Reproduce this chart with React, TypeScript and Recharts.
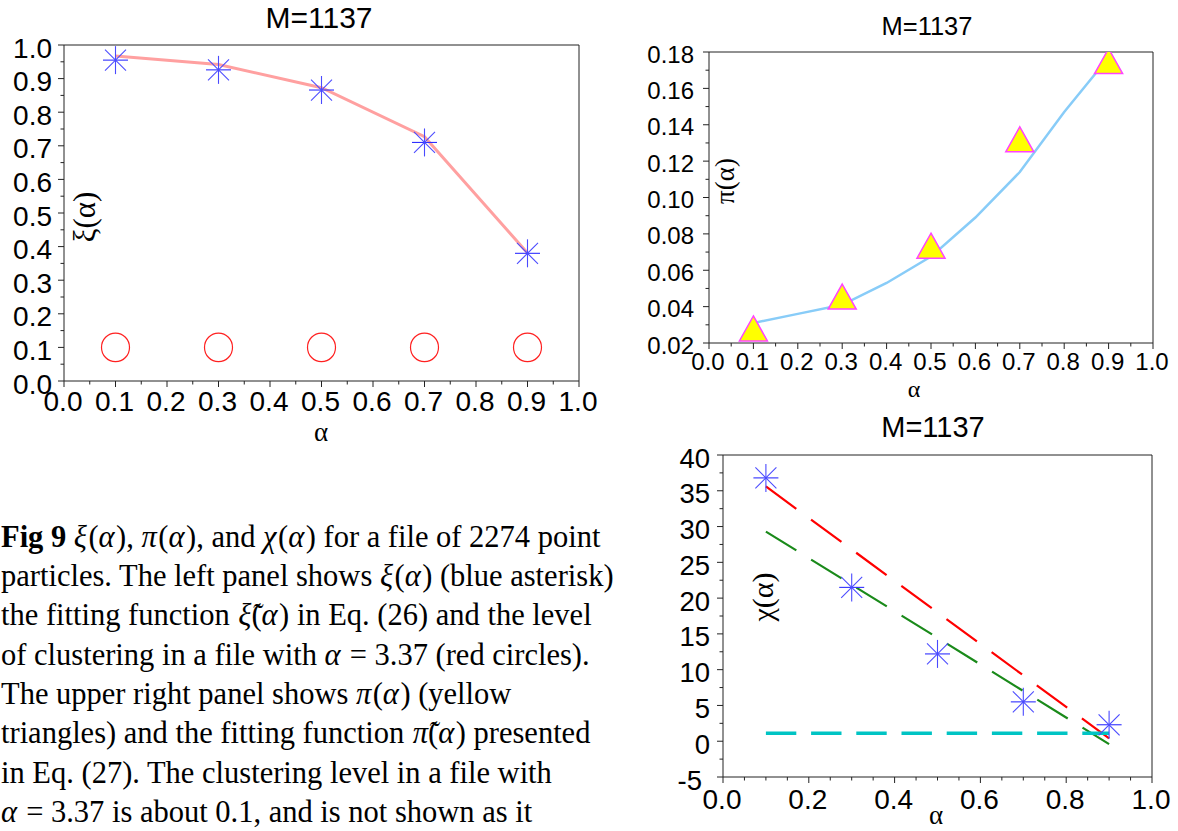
import React from 'react';
import { ComposedChart, Line, Scatter, XAxis, YAxis, ReferenceArea } from 'recharts';

// ---------- data ----------
const alpha = [0.1, 0.3, 0.5, 0.7, 0.9];
const xiMeasured = [0.955, 0.926, 0.866, 0.71, 0.38];
const xiFit = [0.967, 0.942, 0.873, 0.727, 0.381];
const clusterLevel = [0.1, 0.1, 0.1, 0.1, 0.1];

const piMeasured = [0.028, 0.0455, 0.0735, 0.132, 0.175];
const piFitAlpha = [0.1, 0.2, 0.3, 0.4, 0.5, 0.6, 0.7, 0.8, 0.9];
const piFit = [0.031, 0.036, 0.041, 0.053, 0.0675, 0.089, 0.114, 0.147, 0.177];

const chiMeasured = [36.8, 21.5, 12.2, 5.5, 2.3];
const chiFitAlpha = [0.1, 0.9];
const chiFitRed = [35.6, 0.4];
const chiFitGreen = [29.3, -0.4];
const chiFitCyan = [1.1, 1.1];

// ---------- ticks ----------
const unitTicks = [0, 0.1, 0.2, 0.3, 0.4, 0.5, 0.6, 0.7, 0.8, 0.9, 1.0];
const unitLabels = ['0.0', '0.1', '0.2', '0.3', '0.4', '0.5', '0.6', '0.7', '0.8', '0.9', '1.0'];
const unitMinor = [0.05, 0.15, 0.25, 0.35, 0.45, 0.55, 0.65, 0.75, 0.85, 0.95];

const piTicks = [0.02, 0.04, 0.06, 0.08, 0.1, 0.12, 0.14, 0.16, 0.18];
const piLabels = ['0.02', '0.04', '0.06', '0.08', '0.10', '0.12', '0.14', '0.16', '0.18'];
const piMinor = [0.03, 0.05, 0.07, 0.09, 0.11, 0.13, 0.15, 0.17];

const chiXTicks = [0, 0.2, 0.4, 0.6, 0.8, 1.0];
const chiXLabels = ['0.0', '0.2', '0.4', '0.6', '0.8', '1.0'];
const chiXMinor = [0.05, 0.1, 0.15, 0.25, 0.3, 0.35, 0.45, 0.5, 0.55, 0.65, 0.7, 0.75, 0.85, 0.9, 0.95];

const chiYTicks = [-5, 0, 5, 10, 15, 20, 25, 30, 35, 40];
const chiYLabels = ['-5', '0', '5', '10', '15', '20', '25', '30', '35', '40'];
const chiYMinor = [-2.5, 2.5, 7.5, 12.5, 17.5, 22.5, 27.5, 32.5, 37.5];

const SANS = '"Liberation Sans", Arial, sans-serif';
const SERIF = '"Liberation Serif", "Times New Roman", serif';

const toXY = (xs: number[], ys: number[]) => xs.map((x, i) => ({ x, y: ys[i] }));

const all = (a: number[], b: number[]) => [...a, ...b].sort((p, q) => p - q);

function makeTick(
  orient: 'x' | 'y',
  majors: number[],
  labels: string[],
  fontSize: number,
  gap: number,
  dy: number,
  firstDx = 0
) {
  return (props: any) => {
    const { x, y, payload } = props;
    const v = payload.value;
    const idx = majors.findIndex((m) => Math.abs(m - v) < 1e-9);
    const major = idx >= 0;
    const len = major ? 6 : 3.5;
    if (orient === 'x') {
      return (
        <g>
          <line x1={x} x2={x} y1={y} y2={y + len} stroke="#222" strokeWidth={1} />
          {major && (
            <text x={x - 1} y={y + gap} textAnchor="middle" fontSize={fontSize} fontFamily={SANS} fill="#000">
              {labels[idx]}
            </text>
          )}
        </g>
      );
    }
    return (
      <g>
        <line x1={x} x2={x - len} y1={y} y2={y} stroke="#222" strokeWidth={1} />
        {major && (
          <text
            x={x - gap + (idx === 0 ? firstDx : 0)}
            y={y + dy}
            textAnchor="end"
            dominantBaseline="central"
            fontSize={fontSize}
            fontFamily={SANS}
            fill="#000"
          >
            {labels[idx]}
          </text>
        )}
      </g>
    );
  };
}

// ---------- markers ----------
const Star = (props: any) => {
  const { cx, cy } = props;
  if (cx == null || cy == null) return null;
  return (
    <g stroke="#4a4aff" strokeWidth={1.1} fill="none">
      <line x1={cx - 12.5} x2={cx + 12.5} y1={cy} y2={cy} stroke="#2f2fff" />
      <line x1={cx} x2={cx} y1={cy - 14} y2={cy + 14} />
      <line x1={cx - 10.5} y1={cy - 10.5} x2={cx + 10.5} y2={cy + 10.5} />
      <line x1={cx - 10.5} y1={cy + 10.5} x2={cx + 10.5} y2={cy - 10.5} />
    </g>
  );
};

const Ring = (props: any) => {
  const { cx, cy } = props;
  if (cx == null || cy == null) return null;
  return <ellipse cx={cx} cy={cy} rx={14} ry={14.3} fill="none" stroke="#ff2020" strokeWidth={1.2} />;
};

const Tri = (props: any) => {
  const { cx, cy } = props;
  if (cx == null || cy == null) return null;
  const h = 25;
  const w = 28;
  const d = `M${cx},${cy - h / 2} L${cx + w / 2},${cy + h / 2} L${cx - w / 2},${cy + h / 2} Z`;
  return <path d={d} fill="#ffff00" stroke="#ff44ff" strokeWidth={1.5} />;
};

// ---------- caption ----------
// **bold**, _italic math_, ~x~ = italic math letter with a combining tilde accent
const captionLines: string[] = [
  '**Fig 9** _ξ_(_α_), _π_(_α_), and _χ_(_α_) for a file of 2274 point',
  'particles. The left panel shows _ξ_(_α_) (blue asterisk)',
  'the fitting function ~ξ\u0303~(_α_) in Eq. (26) and the level',
  'of clustering in a file with _α_ = 3.37 (red circles).',
  'The upper right panel shows _π_(_α_) (yellow',
  'triangles) and the fitting function ~π\u0303~(_α_) presented',
  'in Eq. (27). The clustering level in a file with',
  '_α_ = 3.37 is about 0.1, and is not shown as it',
];

function renderRich(t: string) {
  const parts = t.split(/(\*\*[^*]+\*\*|_[^_]+_|~[^~]+~)/g).filter((p) => p.length > 0);
  return parts.map((p, i) => {
    if (p.startsWith('**')) return <tspan key={i} fontWeight="bold">{p.slice(2, -2)}</tspan>;
    if (p.startsWith('_'))
      return (
        <tspan key={i} fontStyle="italic" letterSpacing={1.5}>
          {p.slice(1, -1)}
        </tspan>
      );
    if (p.startsWith('~'))
      return (
        <tspan key={i} fontStyle="italic" dx={1}>
          {p.slice(1, -1)}
        </tspan>
      );
    return <tspan key={i}>{p}</tspan>;
  });
}

const axisCommon = {
  axisLine: false,
  tickLine: false,
  tickSize: 0,
  tickMargin: 0,
  interval: 0 as const,
  allowDataOverflow: true,
};

export default function App() {
  const xiData = toXY(alpha, xiMeasured);
  const xiFitData = toXY(alpha, xiFit);
  const clusterData = toXY(alpha, clusterLevel);
  const piData = toXY(alpha, piMeasured);
  const piFitData = toXY(piFitAlpha, piFit);
  const chiData = toXY(alpha, chiMeasured);
  const redData = toXY(chiFitAlpha, chiFitRed);
  const greenData = toXY(chiFitAlpha, chiFitGreen);
  const cyanData = toXY(chiFitAlpha, chiFitCyan);

  return (
    <div
      style={{
        position: 'absolute',
        left: 0,
        top: 0,
        width: 1178,
        height: 831,
        background: '#fff',
        overflow: 'hidden',
      }}
    >
      {/* Left panel: plot x 64..579, y 45..381 */}
      <div style={{ position: 'absolute', left: 0, top: 0 }}>
        <ComposedChart width={600} height={450} margin={{ top: 45, right: 21, bottom: 68, left: 63 }}>
          <XAxis
            {...axisCommon}
            type="number"
            dataKey="x"
            domain={[0, 1]}
            ticks={all(unitTicks, unitMinor)}
            height={1}
            tick={makeTick('x', unitTicks, unitLabels, 28, 29.5, 0)}
          />
          <YAxis
            {...axisCommon}
            type="number"
            dataKey="y"
            domain={[0, 1]}
            ticks={all(unitTicks, unitMinor)}
            width={1}
            tick={makeTick('y', unitTicks, unitLabels, 28, 12, 3)}
          />
          <ReferenceArea x1={0} x2={1} y1={0} y2={1} fill="none" fillOpacity={0} stroke="#222" strokeWidth={1} ifOverflow="visible" />
          <Line data={xiFitData} dataKey="y" type="linear" stroke="#ffa0a0" strokeWidth={3} dot={false} isAnimationActive={false} />
          <Scatter data={xiData} dataKey="y" shape={(p: any) => <Star {...p} />} isAnimationActive={false} />
          <Scatter data={clusterData} dataKey="y" shape={(p: any) => <Ring {...p} />} isAnimationActive={false} />
        </ComposedChart>
      </div>

      {/* Top right panel: plot x 709..1153, y 52..343 */}
      <div style={{ position: 'absolute', left: 600, top: 0 }}>
        <ComposedChart width={578} height={400} margin={{ top: 52, right: 25, bottom: 56, left: 108 }}>
          <XAxis
            {...axisCommon}
            type="number"
            dataKey="x"
            domain={[0, 1]}
            ticks={all(unitTicks, unitMinor)}
            height={1}
            tick={makeTick('x', unitTicks, unitLabels, 24, 27, 0)}
          />
          <YAxis
            {...axisCommon}
            type="number"
            dataKey="y"
            domain={[0.02, 0.18]}
            ticks={all(piTicks, piMinor)}
            width={1}
            tick={makeTick('y', piTicks, piLabels, 24, 15, 2)}
          />
          <ReferenceArea x1={0} x2={1} y1={0.02} y2={0.18} fill="none" fillOpacity={0} stroke="#222" strokeWidth={1} ifOverflow="visible" />
          <Scatter data={piData} dataKey="y" shape={(p: any) => <Tri {...p} />} isAnimationActive={false} />
          <Line data={piFitData} dataKey="y" type="linear" stroke="#88ccf8" strokeWidth={2.5} dot={false} isAnimationActive={false} />
        </ComposedChart>
      </div>

      {/* Bottom right panel: plot x 723..1152, y 455..777 */}
      <div style={{ position: 'absolute', left: 600, top: 400 }}>
        <ComposedChart width={578} height={431} margin={{ top: 55, right: 26, bottom: 53, left: 122 }}>
          <XAxis
            {...axisCommon}
            type="number"
            dataKey="x"
            domain={[0, 1]}
            ticks={all(chiXTicks, chiXMinor)}
            height={1}
            tick={makeTick('x', chiXTicks, chiXLabels, 28, 32, 0)}
          />
          <YAxis
            {...axisCommon}
            type="number"
            dataKey="y"
            domain={[-5, 40]}
            ticks={all(chiYTicks, chiYMinor)}
            width={1}
            tick={makeTick('y', chiYTicks, chiYLabels, 27.5, 13, 3, -8)}
          />
          <ReferenceArea x1={0} x2={1} y1={-5} y2={40} fill="none" fillOpacity={0} stroke="#222" strokeWidth={1} ifOverflow="visible" />
          <Line data={redData} dataKey="y" type="linear" stroke="#ff0000" strokeWidth={2.2} strokeDasharray="37.7 18.3" dot={false} isAnimationActive={false} />
          <Line data={greenData} dataKey="y" type="linear" stroke="#1a8a1a" strokeWidth={2.2} strokeDasharray="35.8 17.4" dot={false} isAnimationActive={false} />
          <Line data={cyanData} dataKey="y" type="linear" stroke="#00c4c4" strokeWidth={3.5} strokeDasharray="30.4 14.8" dot={false} isAnimationActive={false} />
          <Scatter data={chiData} dataKey="y" shape={(p: any) => <Star {...p} />} isAnimationActive={false} />
        </ComposedChart>
      </div>

      {/* Titles, axis labels and caption */}
      <svg
        width={1178}
        height={831}
        style={{ position: 'absolute', left: 0, top: 0, pointerEvents: 'none' }}
      >
        <text x={319} y={27.5} textAnchor="middle" fontFamily={SANS} fontSize={30} fill="#000">M=1137</text>
        <text x={927} y={35} textAnchor="middle" fontFamily={SANS} fontSize={25.5} fill="#000">M=1137</text>
        <text x={933} y={437} textAnchor="middle" fontFamily={SANS} fontSize={29} fill="#000">M=1137</text>

        <text x={321} y={441} textAnchor="middle" fontFamily={SERIF} fontSize={27} fill="#000">α</text>
        <text x={914} y={396.5} textAnchor="middle" fontFamily={SERIF} fontSize={24} fill="#000">α</text>
        <text x={936} y={824} textAnchor="middle" fontFamily={SERIF} fontSize={27} fill="#000">α</text>

        <text
          x={0}
          y={0}
          transform="translate(84,217) rotate(-90)"
          textAnchor="middle"
          dominantBaseline="central"
          fontFamily={SERIF}
          fontSize={31}
          fill="#000"
        >
          ξ(α)
        </text>
        <text
          x={0}
          y={0}
          transform="translate(725,181) rotate(-90)"
          textAnchor="middle"
          dominantBaseline="central"
          fontFamily={SERIF}
          fontSize={27}
          fill="#000"
        >
          π(α)
        </text>
        <text
          x={0}
          y={0}
          transform="translate(762,597) rotate(-90)"
          textAnchor="middle"
          dominantBaseline="central"
          fontFamily={SERIF}
          fontSize={30}
          fill="#000"
        >
          χ(α)
        </text>

        {captionLines.map((ln, i) => (
          <text
            key={i}
            x={1}
            y={546.7 + i * 39.3}
            fontFamily={SERIF}
            fontSize={30.5}
            fill="#000"
            style={{ whiteSpace: 'pre' }}
          >
            {renderRich(ln)}
          </text>
        ))}
      </svg>
    </div>
  );
}
